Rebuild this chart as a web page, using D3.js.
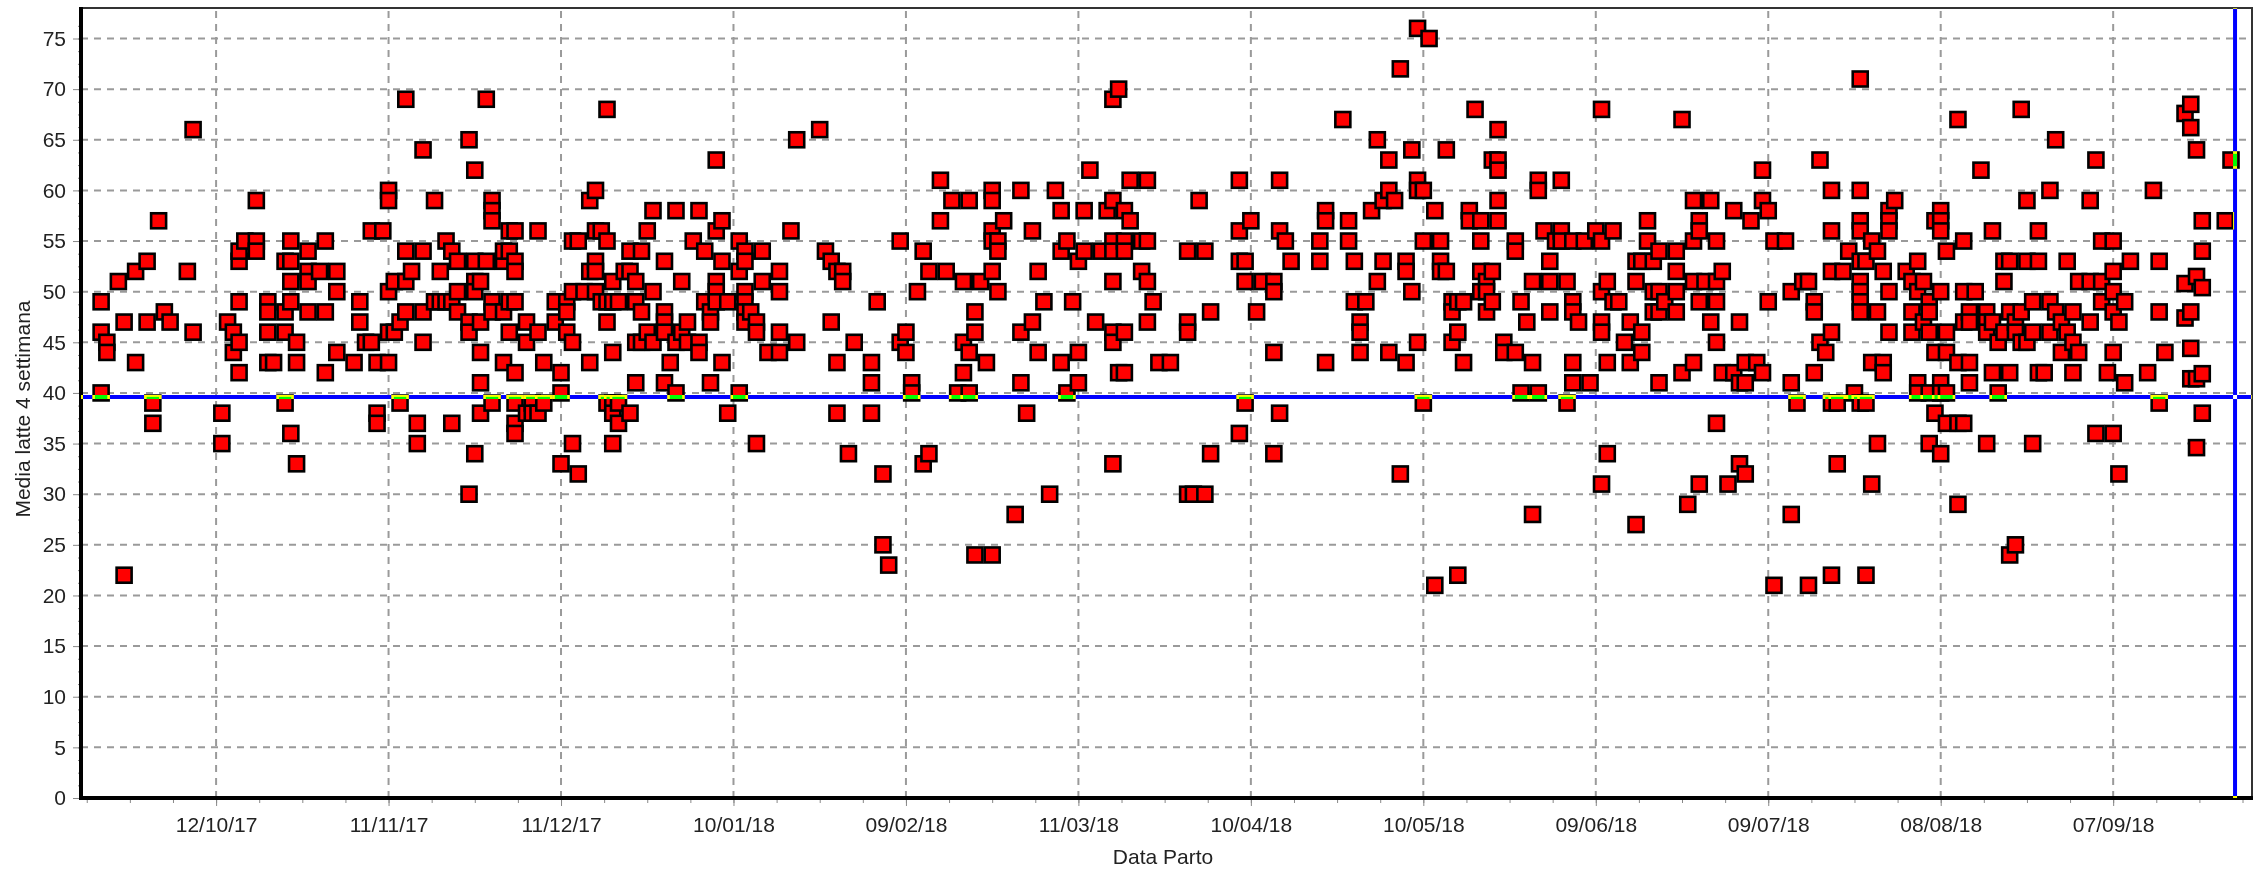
<!DOCTYPE html>
<html><head><meta charset="utf-8">
<script src="https://cdn.jsdelivr.net/npm/d3@7/dist/d3.min.js"></script>
<style>html,body{margin:0;padding:0;background:#fff}svg{display:block;filter:blur(.45px)}</style>
</head><body><svg id="c" width="2256" height="870"></svg>
<script>
const yTickValues=[0,5,10,15,20,25,30,35,40,45,50,55,60,65,70,75];
const xTickLabels=["12/10/17","11/11/17","11/12/17","10/01/18","09/02/18","11/03/18","10/04/18","10/05/18","09/06/18","09/07/18","08/08/18","07/09/18"];
const meanMilk=39.6;
const lastDayOffset=351.2;
// [days after 12/10/17, Media latte 4 settimana]
const autumnCows=[[-20,49],[-20,46],[-20,40],[-19,45],[-19,44],[-17,51],[-16,47],[-16,22],[-14,52],[-14,43],[-12,53],[-12,47],[-11,39],[-11,37],[-10,57],[-9,48],[-8,47],[-5,52],[-4,66],[-4,46],[1,38],[1,35],[2,47],[3,46],[3,44],[4,45],[4,42],[4,49],[4,53],[4,54],[5,55],[7,59],[7,55],[7,54],[9,49],[9,48],[9,46],[9,43],[10,43],[12,53],[12,48],[12,46],[12,39],[13,55],[13,53],[13,51],[13,49],[13,36],[14,45],[14,43],[14,33],[16,52],[16,51],[16,54],[16,48],[18,52],[19,55],[19,48],[19,42],[21,52],[21,50],[21,44],[24,43],[25,49],[25,47],[26,45],[27,45],[27,56],[28,43],[28,38],[28,37],[29,56],[30,43],[30,60],[30,59],[30,50],[30,46],[31,46],[31,51],[32,47],[32,39],[33,51],[33,69],[33,48],[33,54],[34,52],[35,37],[35,35],[36,54],[36,64],[36,48],[36,45],[38,59],[38,49],[39,49],[39,52],[40,55],[40,49],[41,54],[41,49],[41,37],[42,53],[42,50],[42,48],[44,65],[44,47],[44,46],[44,30],[45,53],[45,51],[45,50],[45,62],[45,34],[46,47],[46,51],[46,44],[46,41],[46,38],[47,69],[47,53],[48,59],[48,58],[48,57],[48,49],[48,48],[48,39],[50,48],[50,43],[50,53],[50,54],[51,54],[51,46],[51,49],[51,56],[52,56],[52,53],[52,52],[52,49],[52,42],[52,39],[52,37],[52,36],[54,47],[54,45],[54,38],[55,39],[55,38],[56,46],[56,56],[56,38],[57,39],[57,43],[59,47],[59,49]];
const winterCows=[[60,42],[60,40],[60,33],[61,49],[61,48],[61,46],[62,55],[62,50],[62,45],[62,35],[63,55],[63,32],[64,50],[65,59],[65,52],[65,43],[66,60],[66,56],[66,53],[66,52],[66,50],[67,56],[67,49],[68,68],[68,55],[68,49],[68,47],[68,39],[69,51],[69,49],[69,44],[69,39],[69,38],[69,35],[70,49],[70,39],[70,37],[71,52],[72,54],[72,52],[72,38],[73,51],[73,49],[73,45],[73,41],[74,54],[74,48],[74,45],[75,56],[75,46],[76,58],[76,50],[76,45],[78,53],[78,48],[78,47],[78,46],[78,41],[79,43],[80,58],[80,45],[80,40],[81,51],[81,46],[82,47],[82,45],[83,55],[84,58],[84,45],[84,44],[85,54],[85,49],[86,48],[86,47],[86,41],[87,63],[87,56],[87,51],[87,50],[87,49],[88,57],[88,53],[88,43],[89,49],[89,38],[91,55],[91,52],[91,40],[92,54],[92,53],[92,50],[92,49],[92,48],[92,47],[93,48],[94,47],[94,46],[94,35],[95,54],[95,51],[96,44],[98,52],[98,50],[98,46],[98,44],[100,56],[101,65],[101,45],[105,66],[106,54],[107,53],[107,47],[108,52],[108,43],[108,38],[109,52],[109,51],[110,34],[111,45],[114,43],[114,41],[114,38],[115,49],[116,32],[116,25],[117,23],[119,55],[119,45],[120,46],[120,44],[121,41],[121,40],[122,50],[123,54],[123,33],[124,52],[124,34],[126,61],[126,57],[127,52],[128,59],[129,40],[130,51],[130,45],[130,42],[131,59],[131,44],[131,40],[132,48],[132,46],[132,24],[133,51],[134,43],[135,60],[135,59],[135,56],[135,55],[135,52],[135,24],[136,55],[136,54],[136,50],[137,57],[139,28],[140,60],[140,46],[140,41],[141,38],[142,56],[142,47],[143,52],[143,44],[144,49],[145,30],[146,60],[147,58],[147,54],[147,43],[148,55],[148,40],[149,49],[150,53],[150,44],[150,41],[151,58],[151,54],[152,62],[153,47],[154,54],[155,58],[156,69],[156,59],[156,55],[156,54],[156,51],[156,46],[156,45],[156,33],[157,70],[157,42]];
const springCows=[[158,58],[158,55],[158,54],[158,46],[158,42],[159,61],[159,57],[161,55],[161,52],[162,61],[162,55],[162,51],[162,47],[163,49],[164,43],[166,43],[169,54],[169,47],[169,46],[169,30],[170,30],[171,59],[172,54],[172,30],[173,48],[173,34],[178,61],[178,56],[178,53],[178,36],[179,53],[179,51],[179,39],[180,57],[181,48],[182,51],[184,51],[184,50],[184,44],[184,34],[185,61],[185,56],[185,38],[186,55],[187,53],[192,55],[192,53],[193,58],[193,57],[193,43],[196,67],[197,57],[197,55],[198,53],[198,49],[199,47],[199,46],[199,44],[200,49],[201,58],[202,65],[202,51],[203,59],[203,53],[204,63],[204,60],[204,44],[205,59],[206,72],[206,32],[207,53],[207,52],[207,43],[208,64],[208,50],[209,76],[209,61],[209,60],[209,45],[210,60],[210,55],[210,39],[211,75],[212,58],[212,21],[213,55],[213,53],[213,52],[214,64],[214,52],[215,49],[215,48],[215,45],[216,49],[216,46],[216,22],[217,49],[217,43],[218,58],[218,57],[219,68],[220,57],[220,55],[220,52],[220,50],[221,51],[221,50],[221,48],[222,63],[222,52],[222,49],[223,66],[223,63],[223,62],[223,59],[223,57],[224,45],[224,44],[226,55],[226,54],[226,44],[227,49],[227,40],[228,47],[229,51],[229,43],[229,28],[230,61],[230,60],[230,40],[231,56],[232,53],[232,51],[232,48],[233,55],[234,61],[234,56],[234,55],[235,51],[235,39],[236,55],[236,49],[236,48],[236,43],[236,41],[237,47],[238,55],[239,41],[240,56],[241,68],[241,55],[241,50],[241,47],[241,46],[241,31],[242,51],[242,43],[242,34],[243,56],[243,49],[244,49],[245,45],[246,47],[246,43],[247,53],[247,51],[247,27],[248,53],[248,46],[248,44],[249,57],[249,55],[250,53],[250,50],[250,48],[251,54],[251,50],[251,48],[251,41],[252,49],[254,54],[254,52],[254,50],[254,48]];
const summerCows=[[255,67],[255,42],[256,29],[257,59],[257,55],[257,51],[257,43],[258,57],[258,56],[258,49],[258,31],[259,51],[260,59],[260,47],[261,55],[261,51],[261,49],[261,45],[261,37],[262,52],[262,42],[263,31],[264,58],[264,42],[265,47],[265,41],[265,33],[266,43],[266,41],[266,32],[267,57],[268,43],[269,62],[269,59],[269,42],[270,58],[270,49],[271,55],[271,21],[273,55],[274,50],[274,41],[274,28],[275,39],[276,51],[277,51],[277,21],[278,49],[278,48],[278,42],[279,63],[279,45],[280,44],[281,60],[281,56],[281,52],[281,46],[281,39],[281,22],[282,39],[282,33],[283,52],[284,54],[285,40],[286,71],[286,60],[286,57],[286,56],[286,53],[286,51],[286,50],[286,49],[286,48],[286,39],[287,53],[287,39],[287,22],[288,55],[288,43],[288,31],[289,54],[289,48],[289,35],[290,52],[290,43],[290,42],[291,58],[291,57],[291,56],[291,50],[291,46],[292,59],[294,52],[295,51],[295,48],[295,46],[296,53],[296,50],[296,41],[296,40],[297,51],[297,47],[298,49],[298,48],[298,46],[298,40],[298,35],[299,57],[299,44],[299,38],[300,58],[300,57],[300,56],[300,50],[300,41],[300,40],[300,34],[301,54],[301,46],[301,44],[301,40],[301,37],[303,67],[303,43],[303,37],[303,29],[304,55],[304,50],[304,47],[304,37],[305,48],[305,47],[305,43],[305,41],[306,50],[307,62],[308,48],[308,47],[308,46],[308,35],[309,56],[309,47],[309,42],[310,45],[310,40],[311,53],[311,51],[311,46],[312,53],[312,48],[312,42],[312,24],[313,47],[313,46],[313,25],[314,68],[314,48],[314,45],[315,59],[315,53],[315,45],[316,49],[316,46],[316,35],[317,56],[317,53],[317,42],[318,42],[319,60],[319,49],[319,46],[320,65],[320,48],[321,47],[321,44],[322,53],[322,46],[323,48],[323,45],[323,42],[324,51],[324,44],[326,59],[326,51],[326,47],[327,63],[327,36],[328,55],[328,51],[328,49],[329,42],[330,55],[330,52],[330,50],[330,48],[330,44],[330,36],[331,47],[331,32],[332,49],[332,41],[333,53],[336,42],[337,60],[338,53],[338,48],[338,39],[339,44],[342.5,67.6],[342.5,50.8],[342.5,47.4],[343.5,68.5],[343.5,66.2],[343.5,48],[343.5,44.4],[343.5,41.4],[344.5,64],[344.5,51.5],[344.5,41.4],[344.5,34.6],[345.5,57],[345.5,54],[345.5,50.4],[345.5,41.9],[345.5,38],[349.5,57],[350.5,63]];

const W=2256,H=870,m={l:81,r:2252,t:8,b:798};
const FONT="'Liberation Sans',Arial,sans-serif",FS=21;
const svg=d3.select("#c");
svg.append("rect").attr("width",W).attr("height",H).attr("fill","#fff");
const origin=new Date(2017,9,12);
const day=o=>new Date(origin.getTime()+o*864e5);
const parseTick=d3.timeParse("%d/%m/%y");
const x=d3.scaleTime().domain([day(-23.5),day(354.15)]).range([m.l,m.r]);
const y=d3.scaleLinear().domain([0,75]).range([m.b,38.5]);
const xTicks=xTickLabels.map(parseTick);

// grid
const grid=svg.append("g").attr("stroke","#9a9a9a").attr("stroke-width",2).attr("stroke-dasharray","7 6");
grid.selectAll(".h").data(yTickValues.slice(1)).join("line").attr("x1",m.l).attr("x2",m.r).attr("y1",d=>y(d)).attr("y2",d=>y(d));
grid.selectAll(".v").data(xTicks).join("line").attr("x1",d=>x(d)).attr("x2",d=>x(d)).attr("y1",m.b).attr("y2",m.t);

// axes
const minorY=d3.range(0,77.5,1.25);
const gyMinor=svg.append("g").attr("transform",`translate(${m.l},0)`).call(d3.axisLeft(y).tickValues(minorY).tickSize(3).tickFormat(""));
gyMinor.selectAll("line").attr("stroke","#888");gyMinor.select(".domain").remove();
const gy=svg.append("g").attr("transform",`translate(${m.l},0)`).call(d3.axisLeft(y).tickValues(yTickValues).tickSize(8).tickPadding(7));
gy.select(".domain").remove();
gy.selectAll("line").attr("stroke","#888");
gy.selectAll("text").attr("font-family",FONT).attr("font-size",FS).attr("fill","#222");
const minorX=d3.range(-22.5,353,7.5).map(day);
const gxMinor=svg.append("g").attr("transform",`translate(0,${m.b})`).call(d3.axisBottom(x).tickValues(minorX).tickSize(5).tickFormat(""));
gxMinor.selectAll("line").attr("stroke","#888");gxMinor.select(".domain").remove();
const gx=svg.append("g").attr("transform",`translate(0,${m.b})`).call(d3.axisBottom(x).tickValues(xTicks).tickSize(8).tickPadding(11).tickFormat(d3.timeFormat("%d/%m/%y")));
gx.select(".domain").remove();
gx.selectAll("line").attr("stroke","#888");
gx.selectAll("text").attr("font-family",FONT).attr("font-size",FS).attr("fill","#222");

svg.append("text").attr("x",1163).attr("y",864).attr("text-anchor","middle").attr("font-family",FONT).attr("font-size",FS).attr("fill","#222").text("Data Parto");
svg.append("text").attr("transform","translate(30,409) rotate(-90)").attr("text-anchor","middle").attr("font-family",FONT).attr("font-size",FS).attr("fill","#222").text("Media latte 4 settimana");

// points
const cows=[...autumnCows,...winterCows,...springCows,...summerCows];
const S=15;
svg.append("g").selectAll("rect").data(cows).join("rect")
 .attr("x",d=>x(day(d[0]))-S/2).attr("y",d=>y(d[1])-S/2).attr("width",S).attr("height",S)
 .attr("fill","#f00").attr("stroke","#000").attr("stroke-width",2.6);

// frame
svg.append("rect").attr("x",m.l).attr("y",m.t).attr("width",m.r-m.l).attr("height",m.b-m.t).attr("fill","none").attr("stroke","#333").attr("stroke-width",2);
svg.append("line").attr("x1",m.l).attr("x2",m.l).attr("y1",m.t-1).attr("y2",m.b+2).attr("stroke","#000").attr("stroke-width",4);
svg.append("line").attr("x1",m.l).attr("x2",m.r+1).attr("y1",m.b).attr("y2",m.b).attr("stroke","#000").attr("stroke-width",4);

// reference lines, XOR-like
const refs=svg.append("g").style("mix-blend-mode","difference");
const refs2=svg.append("g").style("mix-blend-mode","difference");
refs.append("line").attr("x1",m.l).attr("x2",m.r).attr("y1",y(meanMilk)).attr("y2",y(meanMilk)).attr("stroke","#ff0").attr("stroke-width",4);
refs2.append("line").attr("x1",x(day(lastDayOffset))).attr("x2",x(day(lastDayOffset))).attr("y1",m.t).attr("y2",m.b).attr("stroke","#ff0").attr("stroke-width",4);
</script></body></html>
